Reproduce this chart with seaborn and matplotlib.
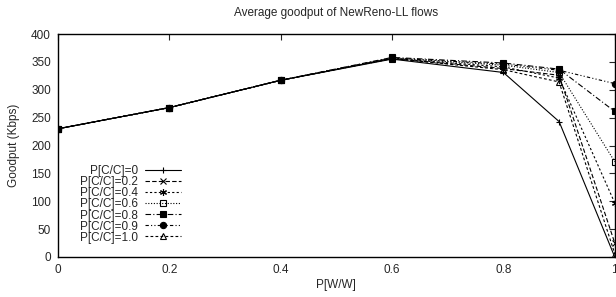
import pandas as pd
import numpy as np
import matplotlib
matplotlib.use('Agg')
import matplotlib.pyplot as plt
import seaborn as sns

'''DATA'''
pww = [0, 0.2, 0.4, 0.6, 0.8, 0.9, 1.0]
labels = ['P[C/C]=0', 'P[C/C]=0.2', 'P[C/C]=0.4', 'P[C/C]=0.6',
          'P[C/C]=0.8', 'P[C/C]=0.9', 'P[C/C]=1.0']
cc_0 = [230, 268, 317, 355, 331, 243, 0]
cc_02 = [230, 268, 317, 356, 338, 326, 25]
cc_04 = [230, 268, 317, 356, 341, 321, 97]
cc_06 = [230, 268, 317, 357, 344, 331, 171]
cc_08 = [230, 268, 317, 358, 348, 337, 261]
cc_09 = [230, 268, 317, 357, 346, 335, 311]
cc_10 = [230, 268, 317, 356, 336, 314, 6]
series = [cc_0, cc_02, cc_04, cc_06, cc_08, cc_09, cc_10]

'''STYLES'''
markers = ['+', 'x', (6, 2, 0), 's', 's', 'o', '^']
fills = ['black', 'black', 'black', 'none', 'black', 'black', 'none']
msizes = [5, 5, 5, 5, 5, 4.5, 4.5]
dashes = ['', (4, 2), (2, 2), (1, 1.5), (5, 2, 1, 2), (3, 2, 1, 2, 1, 2), (2.5, 2)]

sns.set_style('white')
plt.rcParams['font.family'] = ['Liberation Sans', 'DejaVu Sans']
FS = 8.5


def main():
    fig = plt.figure(figsize=(6.16, 2.97), dpi=100)
    ax = fig.add_axes([0.094, 0.1347, 0.904, 0.7508])
    for lab, vals, m, fc, ms, d in zip(labels, series, markers, fills, msizes, dashes):
        df = pd.DataFrame({'x': pww, 'y': vals})
        sns.lineplot(data=df, x='x', y='y', ax=ax, color='black', lw=0.8,
                     marker=m, markersize=ms, markerfacecolor=fc,
                     markeredgecolor='black', markeredgewidth=0.8,
                     dashes=d if d else (None, None), label=lab)
        if not d:
            ax.lines[-1].set_linestyle('-')
    ax.set_xlim(0, 1)
    ax.set_ylim(0, 400)
    ax.set_xticks([0, 0.2, 0.4, 0.6, 0.8, 1.0])
    ax.set_xticklabels(['0', '0.2', '0.4', '0.6', '0.8', '1'])
    ax.set_yticks(np.arange(0, 401, 50))
    ax.tick_params(direction='in', top=True, right=True, length=4, width=0.8, labelsize=FS, pad=5)
    for s in ax.spines.values():
        s.set_color('black')
        s.set_linewidth(1.0)
    ax.set_xlabel('P[W/W]', fontsize=FS, labelpad=2)
    ax.set_ylabel('Goodput (Kbps)', fontsize=FS, labelpad=8)
    ax.set_title('Average goodput of NewReno-LL flows', fontsize=FS, pad=13)
    # gnuplot style key: text first, right aligned
    ax.legend(loc='lower right', bbox_to_anchor=((181 - 58) / 557, 0.06), frameon=False,
              markerfirst=False, handlelength=3.0, labelspacing=-0.08,
              fontsize=FS, borderaxespad=0, borderpad=0, handletextpad=0.6)
    fig.savefig('out.png', dpi=100)


if __name__ == "__main__":
    main()
